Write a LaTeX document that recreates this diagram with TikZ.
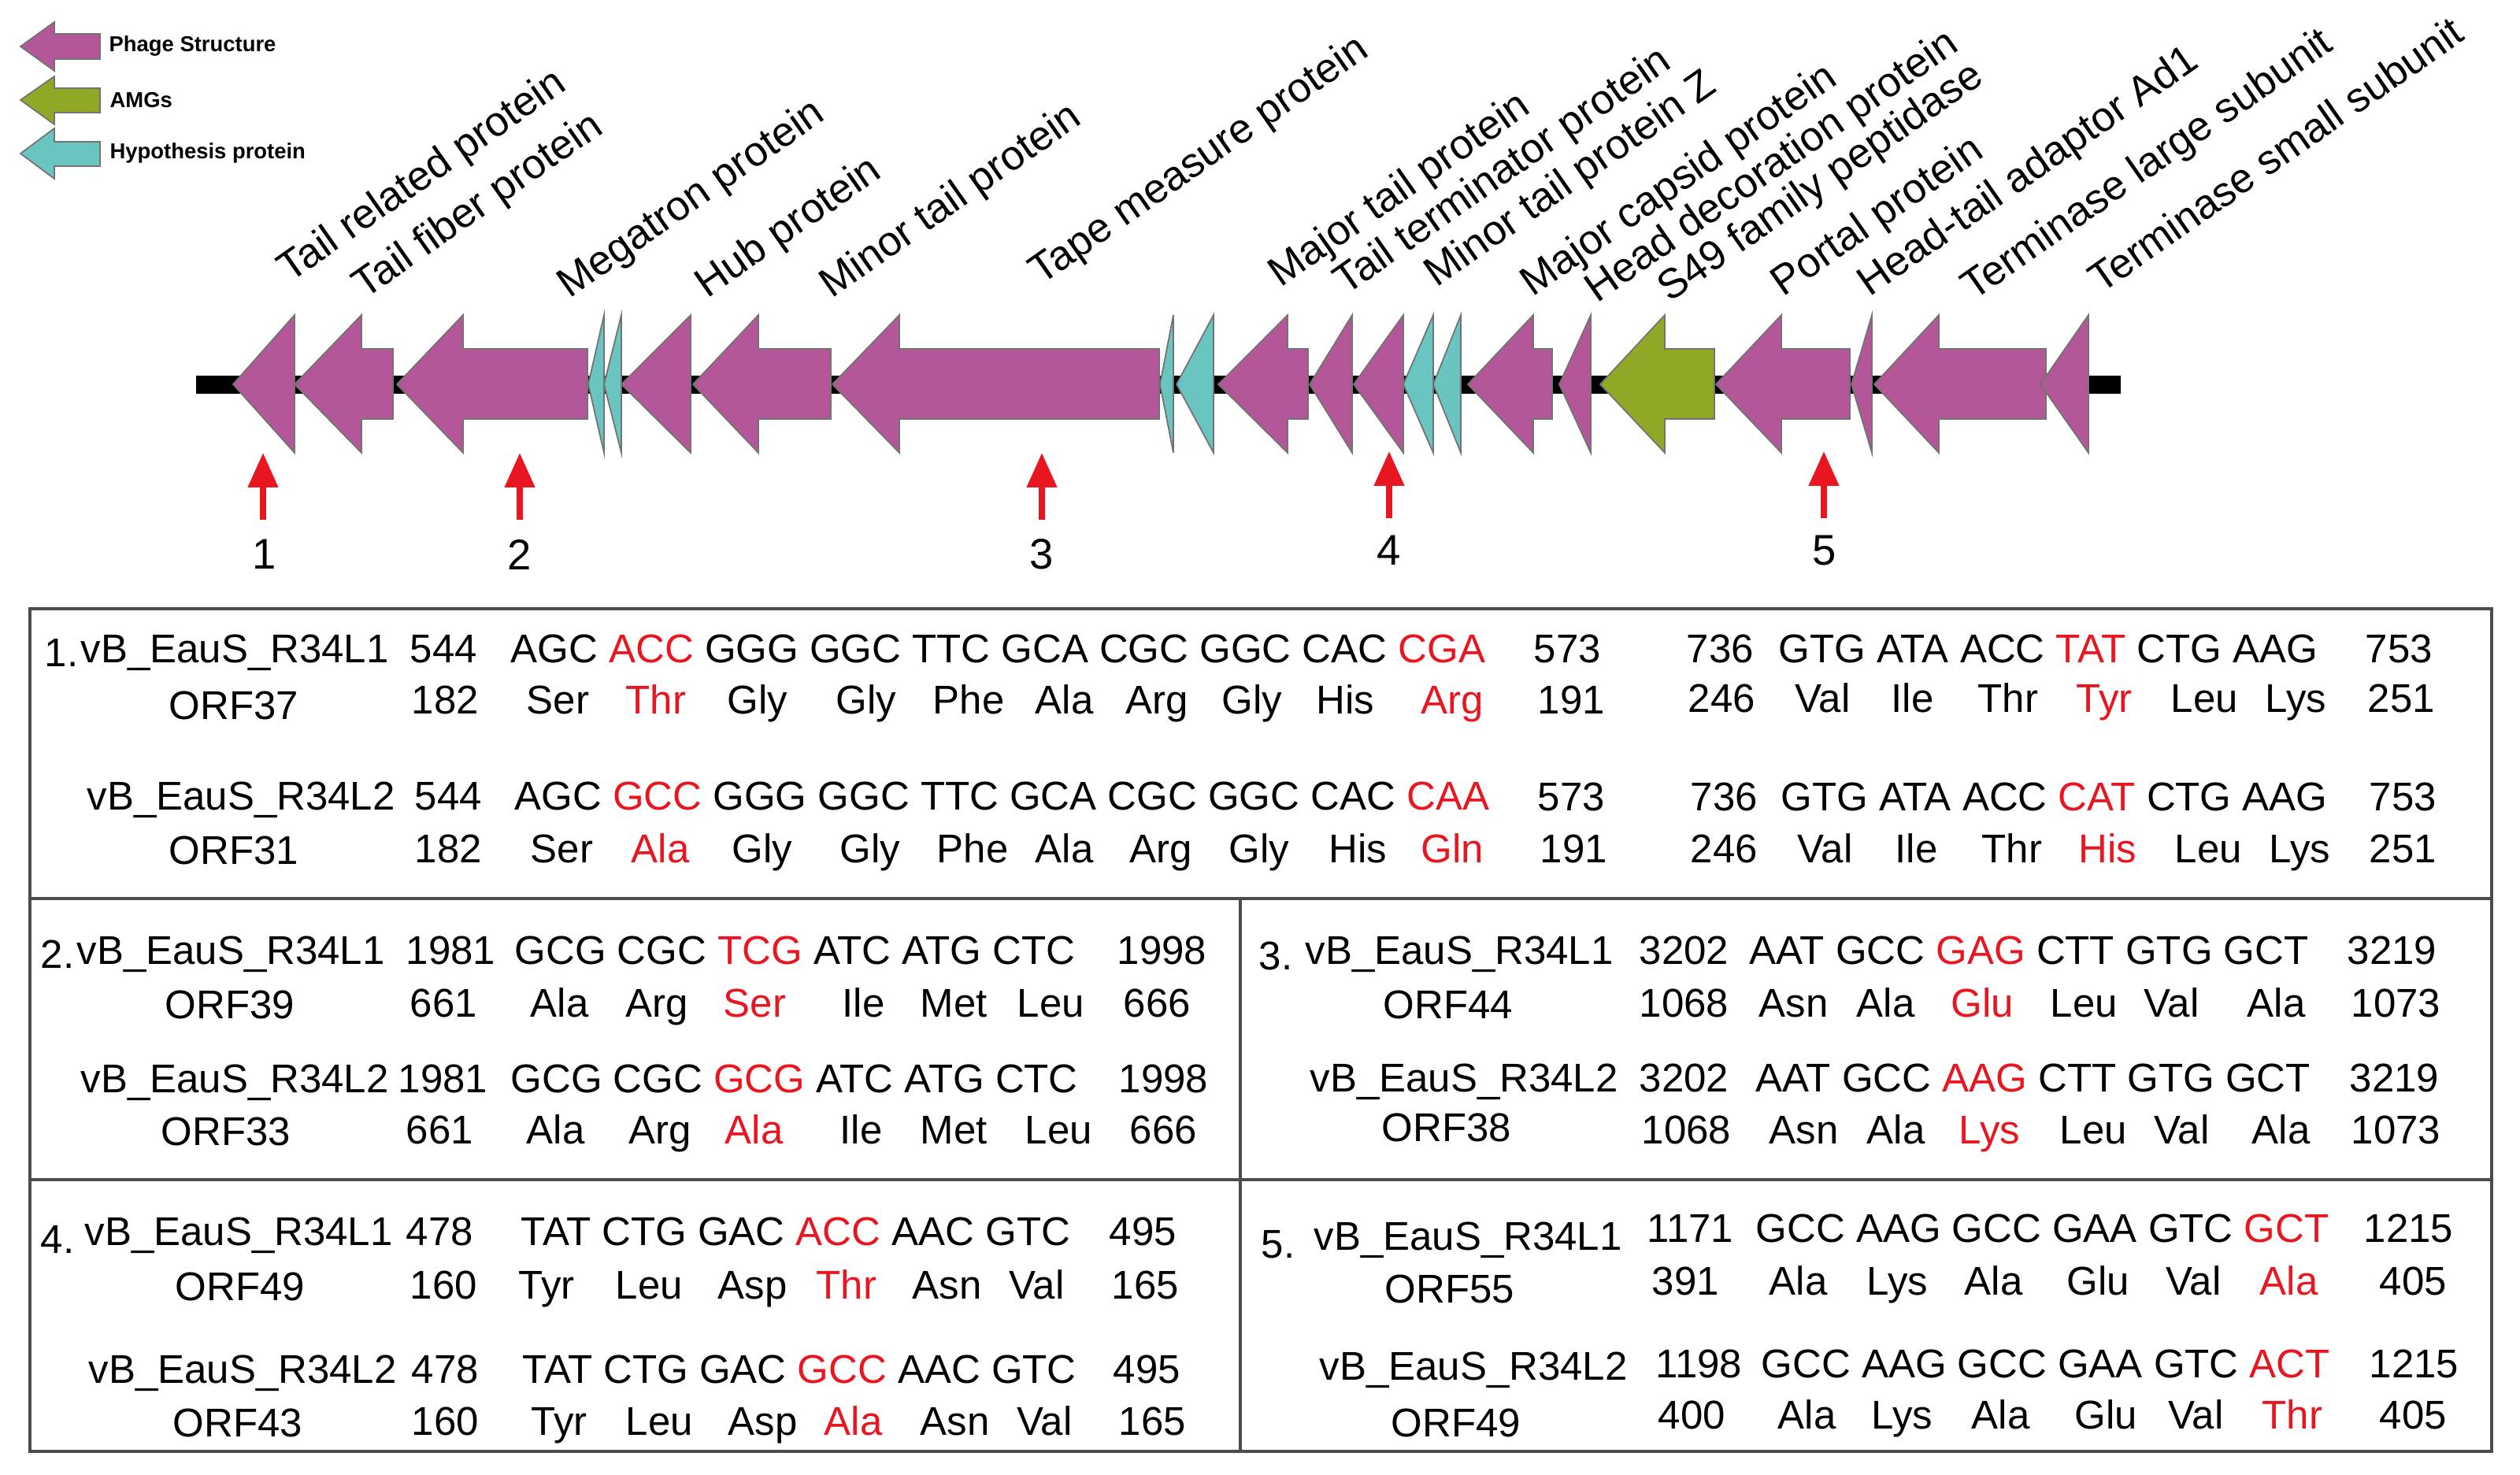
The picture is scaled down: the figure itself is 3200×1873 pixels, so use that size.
\documentclass[tikz,border=0pt]{standalone}
\usepackage{fontspec}
\setmainfont{Liberation Sans}
\usetikzlibrary{arrows.meta}
\definecolor{phage}{RGB}{180,87,153}
\definecolor{amg}{RGB}{143,168,37}
\definecolor{hypo}{RGB}{106,196,191}
\definecolor{mred}{RGB}{232,22,32}
\newcounter{tokc}
\newcommand{\tokn}[4][black]{\stepcounter{tokc}\node[tok,text=#1] (tok\arabic{tokc}) at (#2,#3) {#4};}
\newcommand{\rd}[1]{\textcolor{mred}{#1}}
\newcommand{\genearrow}[4]{\filldraw[fill=#4, gout] (#1,488) -- (#2,400) -- (#2,443) -- (#3,443) -- (#3,532) -- (#2,532) -- (#2,575) -- cycle;}
\begin{document}
\begin{tikzpicture}[x=0.1mm,y=-0.1mm,
  tok/.style={font=\fontsize{14.5}{17}\selectfont, anchor=base west, inner sep=0pt},
  lab/.style={font=\fontsize{15}{18}\selectfont, rotate=35, anchor=base west, inner sep=0pt},
  legtxt/.style={font=\fontsize{7.8}{9}\selectfont\bfseries, anchor=west, inner sep=0pt},
  num/.style={font=\fontsize{15.5}{18}\selectfont, inner sep=0pt},
  gout/.style={draw=black!55, line width=0.5pt, line join=miter},
  redarr/.style={draw=mred, line width=2.2pt, -{Triangle[length=12.5pt,width=10.5pt]}},
  frame/.style={draw=black!70, line width=1.1pt}]
\useasboundingbox (0,0) rectangle (3200,1873);

% ---------- legend ----------
\filldraw[fill=phage, gout] (26,59) -- (69,28) -- (69,43) -- (127,43) -- (127,75) -- (69,75) -- (69,90) -- cycle;
\filldraw[fill=amg, gout] (26,127) -- (69,97) -- (69,112) -- (127,112) -- (127,143) -- (69,143) -- (69,158) -- cycle;
\filldraw[fill=hypo, gout] (26,195) -- (69,163) -- (69,180) -- (127,180) -- (127,211) -- (69,211) -- (69,227) -- cycle;
\node[legtxt] (lg1) at (138,58) {Phage Structure};
\node[legtxt] (lg2) at (139,127) {AMGs};
\node[legtxt] (lg3) at (139,194) {Hypothesis protein};

% ---------- gene labels ----------
\begin{scope}[shift={(16,8)}]
\node[lab] (l1) at (352,352) {Tail related protein};
\node[lab] (l2) at (447,373) {Tail fiber protein};
\node[lab] (l3) at (707,372) {Megatron protein};
\node[lab] (l4) at (882,372) {Hub protein};
\node[lab] (l5) at (1040,372) {Minor tail protein};
\node[lab] (l6) at (1306,355) {Tape measure protein};
\node[lab] (l7) at (1610,358) {Major tail protein};
\node[lab] (l8) at (1693,368) {Tail terminator protein};
\node[lab] (l9) at (1808,358) {Minor tail protein Z};
\node[lab] (l10) at (1930,370) {Major capsid protein};
\node[lab] (l11) at (2012,378) {Head decoration protein};
\node[lab] (l12) at (2104,377) {S49 family peptidase};
\node[lab] (l13) at (2248,370) {Portal protein};
\node[lab] (l14) at (2358,370) {Head-tail adaptor Ad1};
\node[lab] (l15) at (2490,375) {Terminase large subunit};
\node[lab] (l16) at (2652,366) {Terminase small subunit};
\end{scope}

% ---------- genome track ----------
\fill[black] (249,477) rectangle (2693,500);
\genearrow{296}{374}{374}{phage}
\genearrow{374}{459}{499}{phage}
\genearrow{504}{588}{746}{phage}
\genearrow{747}{767}{767}{hypo}
\genearrow{767}{789}{789}{hypo}
\genearrow{789}{877}{877}{phage}
\genearrow{880}{963}{1055}{phage}
\genearrow{1057}{1142}{1472}{phage}
\genearrow{1473}{1490}{1490}{hypo}
\genearrow{1494}{1541}{1541}{hypo}
\genearrow{1547}{1635}{1661}{phage}
\genearrow{1663}{1717}{1717}{phage}
\genearrow{1719}{1782}{1782}{phage}
\genearrow{1782}{1820}{1820}{hypo}
\genearrow{1820}{1855}{1855}{hypo}
\genearrow{1864}{1947}{1971}{phage}
\genearrow{1980}{2020}{2020}{phage}
\genearrow{2032}{2114}{2177}{amg}
\genearrow{2179}{2262}{2349}{phage}
\genearrow{2351}{2377}{2377}{phage}
\genearrow{2380}{2462}{2598}{phage}
\genearrow{2591}{2652}{2652}{phage}

% ---------- red markers ----------
\coordinate (r1b) at (334,660); \coordinate (r1t) at (334,575);
\coordinate (r2b) at (660,660); \coordinate (r2t) at (660,575);
\coordinate (r3b) at (1323,660); \coordinate (r3t) at (1323,575);
\coordinate (r4b) at (1764,658); \coordinate (r4t) at (1764,573);
\coordinate (r5b) at (2316,658); \coordinate (r5t) at (2316,573);
\draw[redarr] (r1b) -- (r1t);
\draw[redarr] (r2b) -- (r2t);
\draw[redarr] (r3b) -- (r3t);
\draw[redarr] (r4b) -- (r4t);
\draw[redarr] (r5b) -- (r5t);
\node[num] (n1) at (336,704) {1};
\node[num] (n2) at (660,704) {2};
\node[num] (n3) at (1323,704) {3};
\node[num] (n4) at (1764,699) {4};
\node[num] (n5) at (2317,699) {5};

% ---------- table frame ----------
\draw[frame] (38,773) rectangle (3164,1843);
\draw[frame] (38,1141) -- (3164,1141);
\draw[frame] (38,1498) -- (3164,1498);
\draw[frame] (1575,1141) -- (1575,1843);

% ---------- block 1 ----------
\tokn{56}{847}{1.}
\tokn{102}{842}{vB\_EauS\_R34L1}
\tokn{520}{842}{544}
\tokn{648}{842}{AGC \rd{ACC} GGG GGC TTC GCA CGC GGC CAC \rd{CGA}}
\tokn{1947}{842}{573}
\tokn{2141}{842}{736}
\tokn{2258}{842}{GTG ATA ACC \rd{TAT} CTG AAG}
\tokn{3003}{842}{753}

\tokn{214}{914}{ORF37}
\tokn{522}{907}{182}
\tokn{668}{907}{Ser}
\tokn[mred]{794}{907}{Thr}
\tokn{923}{907}{Gly}
\tokn{1061}{907}{Gly}
\tokn{1184}{907}{Phe}
\tokn{1314}{907}{Ala}
\tokn{1429}{907}{Arg}
\tokn{1551}{907}{Gly}
\tokn{1671}{907}{His}
\tokn[mred]{1804}{907}{Arg}
\tokn{1952}{907}{191}
\tokn{2143}{905}{246}
\tokn{2279}{905}{Val}
\tokn{2401}{905}{Ile}
\tokn{2511}{905}{Thr}
\tokn[mred]{2636}{905}{Tyr}
\tokn{2756}{905}{Leu}
\tokn{2876}{905}{Lys}
\tokn{3006}{905}{251}

\tokn{110}{1029}{vB\_EauS\_R34L2}
\tokn{526}{1029}{544}
\tokn{653}{1029}{AGC \rd{GCC} GGG GGC TTC GCA CGC GGC CAC \rd{CAA}}
\tokn{1952}{1030}{573}
\tokn{2146}{1030}{736}
\tokn{2261}{1030}{GTG ATA ACC \rd{CAT} CTG AAG}
\tokn{3008}{1030}{753}

\tokn{214}{1098}{ORF31}
\tokn{526}{1096}{182}
\tokn{673}{1096}{Ser}
\tokn[mred]{801}{1096}{Ala}
\tokn{929}{1096}{Gly}
\tokn{1066}{1096}{Gly}
\tokn{1189}{1096}{Phe}
\tokn{1314}{1096}{Ala}
\tokn{1434}{1096}{Arg}
\tokn{1560}{1096}{Gly}
\tokn{1687}{1096}{His}
\tokn[mred]{1804}{1096}{Gln}
\tokn{1955}{1096}{191}
\tokn{2146}{1096}{246}
\tokn{2282}{1096}{Val}
\tokn{2406}{1096}{Ile}
\tokn{2516}{1096}{Thr}
\tokn[mred]{2639}{1096}{His}
\tokn{2761}{1096}{Leu}
\tokn{2881}{1096}{Lys}
\tokn{3008}{1096}{251}

% ---------- block 2 ----------
\tokn{51}{1230}{2.}
\tokn{97}{1225}{vB\_EauS\_R34L1}
\tokn{515}{1225}{1981}
\tokn{653}{1225}{GCG CGC \rd{TCG} ATC ATG CTC}
\tokn{1418}{1225}{1998}
\tokn{209}{1294}{ORF39}
\tokn{520}{1292}{661}
\tokn{673}{1292}{Ala}
\tokn{794}{1292}{Arg}
\tokn[mred]{918}{1292}{Ser}
\tokn{1069}{1292}{Ile}
\tokn{1168}{1292}{Met}
\tokn{1291}{1292}{Leu}
\tokn{1426}{1292}{666}
\tokn{102}{1388}{vB\_EauS\_R34L2}
\tokn{505}{1388}{1981}
\tokn{648}{1388}{GCG CGC \rd{GCG} ATC ATG CTC}
\tokn{1420}{1388}{1998}
\tokn{204}{1455}{ORF33}
\tokn{515}{1453}{661}
\tokn{668}{1453}{Ala}
\tokn{798}{1453}{Arg}
\tokn[mred]{920}{1453}{Ala}
\tokn{1066}{1453}{Ile}
\tokn{1168}{1453}{Met}
\tokn{1301}{1453}{Leu}
\tokn{1434}{1453}{666}

% ---------- block 3 ----------
\tokn{1598}{1232}{3.}
\tokn{1657}{1225}{vB\_EauS\_R34L1}
\tokn{2081}{1225}{3202}
\tokn{2221}{1225}{AAT GCC \rd{GAG} CTT GTG GCT}
\tokn{2980}{1225}{3219}
\tokn{1756}{1294}{ORF44}
\tokn{2081}{1292}{1068}
\tokn{2233}{1292}{Asn}
\tokn{2357}{1292}{Ala}
\tokn[mred]{2477}{1292}{Glu}
\tokn{2603}{1292}{Leu}
\tokn{2722}{1292}{Val}
\tokn{2853}{1292}{Ala}
\tokn{2985}{1292}{1073}
\tokn{1663}{1387}{vB\_EauS\_R34L2}
\tokn{2081}{1387}{3202}
\tokn{2229}{1387}{AAT GCC \rd{AAG} CTT GTG GCT}
\tokn{2983}{1387}{3219}
\tokn{1754}{1450}{ORF38}
\tokn{2084}{1453}{1068}
\tokn{2246}{1453}{Asn}
\tokn{2370}{1453}{Ala}
\tokn[mred]{2487}{1453}{Lys}
\tokn{2615}{1453}{Leu}
\tokn{2735}{1453}{Val}
\tokn{2859}{1453}{Ala}
\tokn{2985}{1453}{1073}

% ---------- block 4 ----------
\tokn{51}{1592}{4.}
\tokn{107}{1582}{vB\_EauS\_R34L1}
\tokn{515}{1582}{478}
\tokn{661}{1582}{TAT CTG GAC \rd{ACC} AAC GTC}
\tokn{1408}{1582}{495}
\tokn{222}{1652}{ORF49}
\tokn{520}{1650}{160}
\tokn{658}{1650}{Tyr}
\tokn{781}{1650}{Leu}
\tokn{911}{1650}{Asp}
\tokn[mred]{1036}{1650}{Thr}
\tokn{1158}{1650}{Asn}
\tokn{1281}{1650}{Val}
\tokn{1411}{1650}{165}
\tokn{112}{1757}{vB\_EauS\_R34L2}
\tokn{522}{1757}{478}
\tokn{663}{1757}{TAT CTG GAC \rd{GCC} AAC GTC}
\tokn{1413}{1757}{495}
\tokn{219}{1825}{ORF43}
\tokn{522}{1823}{160}
\tokn{674}{1823}{Tyr}
\tokn{794}{1823}{Leu}
\tokn{924}{1823}{Asp}
\tokn[mred]{1046}{1823}{Ala}
\tokn{1168}{1823}{Asn}
\tokn{1291}{1823}{Val}
\tokn{1420}{1823}{165}

% ---------- block 5 ----------
\tokn{1601}{1598}{5.}
\tokn{1668}{1588}{vB\_EauS\_R34L1}
\tokn{2091}{1578}{1171}
\tokn{2229}{1578}{GCC AAG GCC GAA GTC \rd{GCT}}
\tokn{3001}{1578}{1215}
\tokn{1758}{1655}{ORF55}
\tokn{2097}{1645}{391}
\tokn{2246}{1645}{Ala}
\tokn{2370}{1645}{Lys}
\tokn{2494}{1645}{Ala}
\tokn{2624}{1645}{Glu}
\tokn{2750}{1645}{Val}
\tokn[mred]{2869}{1645}{Ala}
\tokn{3021}{1645}{405}
\tokn{1675}{1753}{vB\_EauS\_R34L2}
\tokn{2102}{1750}{1198}
\tokn{2236}{1750}{GCC AAG GCC GAA GTC \rd{ACT}}
\tokn{3008}{1750}{1215}
\tokn{1766}{1825}{ORF49}
\tokn{2105}{1815}{400}
\tokn{2257}{1815}{Ala}
\tokn{2376}{1815}{Lys}
\tokn{2503}{1815}{Ala}
\tokn{2634}{1815}{Glu}
\tokn{2753}{1815}{Val}
\tokn[mred]{2872}{1815}{Thr}
\tokn{3021}{1815}{405}
\end{tikzpicture}
\end{document}
